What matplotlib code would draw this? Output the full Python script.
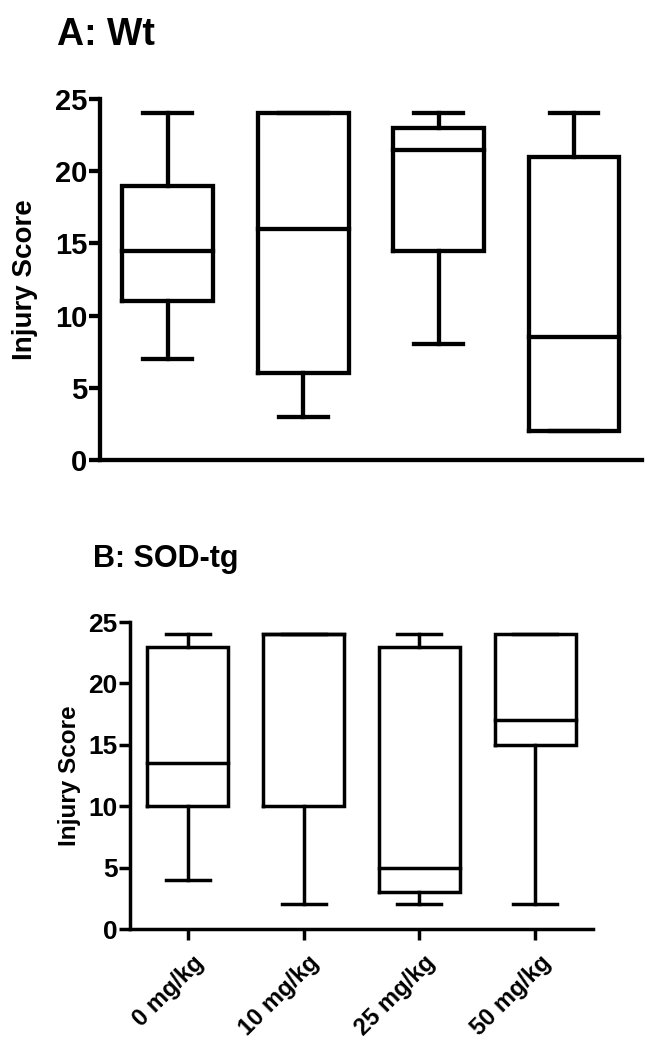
import matplotlib
matplotlib.use("Agg")
import matplotlib.pyplot as plt
from matplotlib.transforms import ScaledTranslation

groups = ['0 mg/kg', '10 mg/kg', '25 mg/kg', '50 mg/kg']

wt_min = [7, 3, 8, 2]
wt_q1 = [11, 6, 14.5, 2]
wt_med = [14.5, 16, 21.5, 8.5]
wt_q3 = [19, 24, 23, 21]
wt_max = [24, 24, 24, 24]

sod_min = [4, 2, 2, 2]
sod_q1 = [10, 10, 3, 15]
sod_med = [13.5, 24, 5, 17]
sod_q3 = [23, 24, 23, 24]
sod_max = [24, 24, 24, 24]

yticks = [0, 5, 10, 15, 20, 25]

FONT = ['Liberation Sans', 'DejaVu Sans']


def stats(mn, q1, med, q3, mx):
    return [dict(whislo=a, q1=b, med=c, q3=d, whishi=e, fliers=[])
            for a, b, c, d, e in zip(mn, q1, med, q3, mx)]


def draw(ax, st, lw, width, capw, tick_fs, lab_fs, labelpad):
    props = dict(color='black', linewidth=lw, solid_capstyle='projecting', solid_joinstyle='miter')
    ax.bxp(st, positions=range(len(st)), widths=width, capwidths=capw,
           showfliers=False, patch_artist=False,
           boxprops=props, whiskerprops=props, capprops=props,
           medianprops=props)
    ax.set_xlim(-0.5, 3.5)
    ax.set_ylim(0, 25)
    ax.set_yticks(yticks)
    for s in ['top', 'right']:
        ax.spines[s].set_visible(False)
    for s in ['left', 'bottom']:
        ax.spines[s].set_linewidth(lw)
        ax.spines[s].set_capstyle('projecting')
    ax.tick_params(axis='y', width=lw, length=8, pad=1, labelsize=tick_fs)
    for t in ax.get_yticklabels():
        t.set_family(FONT)
        t.set_fontweight('bold')
    ax.set_ylabel('Injury Score', family=FONT, fontweight='bold', fontsize=lab_fs, labelpad=labelpad)


fig = plt.figure(figsize=(6.56, 10.5), dpi=100)

axA = fig.add_axes([0.1524, 0.5619, 0.826, 0.3438])
draw(axA, stats(wt_min, wt_q1, wt_med, wt_q3, wt_max), 3.1, 0.67, 0.36, 21, 20, 12)
axA.tick_params(axis='x', bottom=False, labelbottom=False)
fig.text(57 / 656, 1 - 45 / 1050, 'A: Wt', family=FONT, fontweight='bold', fontsize=27, ha='left', va='baseline')

axB = fig.add_axes([0.198, 0.1152, 0.706, 0.2924])
draw(axB, stats(sod_min, sod_q1, sod_med, sod_q3, sod_max), 2.5, 0.70, 0.38, 19, 17.5, 5)
axB.set_xticks(range(len(groups)))
axB.set_xticklabels(groups, rotation=45, ha='right', rotation_mode='anchor',
                    family=FONT, fontweight='bold', fontsize=17)
axB.tick_params(axis='x', width=2.5, length=8, pad=8)
shift = ScaledTranslation(3 / 72, 0, fig.dpi_scale_trans)
for t in axB.get_xticklabels():
    t.set_transform(t.get_transform() + shift)
fig.text(93 / 656, 1 - 567 / 1050, 'B: SOD-tg', family=FONT, fontweight='bold', fontsize=22, ha='left', va='baseline')

fig.savefig('out.png', dpi=100)
